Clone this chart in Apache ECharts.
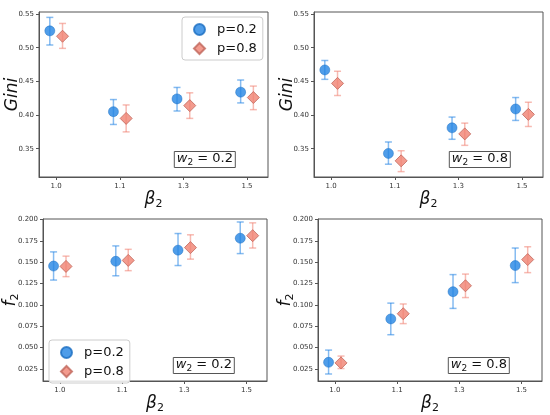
<!DOCTYPE html>
<html><head><meta charset="utf-8">
<script src="https://cdn.jsdelivr.net/npm/echarts@6/dist/echarts.min.js"></script>
<style>html,body{margin:0;padding:0;background:#fff}#c{width:550px;height:415px}</style>
</head><body><div id="c"></div>
<script>
// ---- data ----
const categories = ['1.0', '1.1', '1.3', '1.5'];
const giniTicks = [0.35, 0.40, 0.45, 0.50, 0.55];
const f2Ticks = [0.025, 0.050, 0.075, 0.100, 0.125, 0.150, 0.175, 0.200];

// Gini, w2 = 0.2
const giniW02P02 = [0.525, 0.405, 0.424, 0.434];
const giniW02P02Lo = [0.504, 0.386, 0.406, 0.418];
const giniW02P02Hi = [0.545, 0.423, 0.441, 0.452];
const giniW02P08 = [0.517, 0.395, 0.414, 0.426];
const giniW02P08Lo = [0.499, 0.375, 0.395, 0.408];
const giniW02P08Hi = [0.536, 0.415, 0.433, 0.443];
// Gini, w2 = 0.8
const giniW08P02 = [0.467, 0.343, 0.381, 0.409];
const giniW08P02Lo = [0.453, 0.327, 0.364, 0.392];
const giniW08P02Hi = [0.481, 0.360, 0.397, 0.426];
const giniW08P08 = [0.447, 0.332, 0.372, 0.401];
const giniW08P08Lo = [0.429, 0.316, 0.355, 0.383];
const giniW08P08Hi = [0.465, 0.347, 0.388, 0.419];
// f2, w2 = 0.2
const f2W02P02 = [0.1454, 0.151, 0.164, 0.178];
const f2W02P02Lo = [0.129, 0.134, 0.146, 0.160];
const f2W02P02Hi = [0.162, 0.169, 0.1835, 0.197];
const f2W02P08 = [0.145, 0.152, 0.167, 0.181];
const f2W02P08Lo = [0.133, 0.140, 0.1535, 0.1665];
const f2W02P08Hi = [0.157, 0.165, 0.182, 0.196];
// f2, w2 = 0.8
const f2W08P02 = [0.0327, 0.0835, 0.1154, 0.146];
const f2W08P02Lo = [0.019, 0.065, 0.0958, 0.126];
const f2W08P02Hi = [0.047, 0.102, 0.1354, 0.1665];
const f2W08P08 = [0.032, 0.0896, 0.1223, 0.153];
const f2W08P08Lo = [0.0254, 0.078, 0.1085, 0.1377];
const f2W08P08Hi = [0.040, 0.101, 0.136, 0.168];

const seriesNames = ['p=0.2', 'p=0.8'];
const w2Labels = ['0.2', '0.8', '0.2', '0.8'];

// ---- styles ----
const BLUE = '#2384e3';
const BLUE_ERR = 'rgba(35,132,227,0.55)';
const RED = '#f08272';
const RED_EDGE = '#c0675b';
const RED_ERR = 'rgba(240,130,114,0.55)';
const AX = '#555';
const FONT = 'DejaVu Sans';

const panels = [
  {grid: {left: 39, top: 12, width: 229, height: 165}, kind: 'gini',
   a: [giniW02P02, giniW02P02Lo, giniW02P02Hi], b: [giniW02P08, giniW02P08Lo, giniW02P08Hi]},
  {grid: {left: 314, top: 12, width: 229, height: 165}, kind: 'gini',
   a: [giniW08P02, giniW08P02Lo, giniW08P02Hi], b: [giniW08P08, giniW08P08Lo, giniW08P08Hi]},
  {grid: {left: 43, top: 219, width: 224, height: 164}, kind: 'f2',
   a: [f2W02P02, f2W02P02Lo, f2W02P02Hi], b: [f2W02P08, f2W02P08Lo, f2W02P08Hi]},
  {grid: {left: 318, top: 219, width: 224, height: 164}, kind: 'f2',
   a: [f2W08P02, f2W08P02Lo, f2W08P02Hi], b: [f2W08P08, f2W08P08Lo, f2W08P08Hi]}
];
const offsets = [-0.1, 0.1];

const grids = [], xAxes = [], yAxes = [], series = [], titles = [];

function errRender(color) {
  return function (params, api) {
    const x = api.value(0), lo = api.value(1), hi = api.value(2);
    const p1 = api.coord([x, hi]), p2 = api.coord([x, lo]);
    const cw = 3.5;
    const st = {stroke: color, lineWidth: 1.5};
    return {type: 'group', children: [
      {type: 'line', shape: {x1: p1[0], y1: p1[1], x2: p2[0], y2: p2[1]}, style: st},
      {type: 'line', shape: {x1: p1[0] - cw, y1: p1[1], x2: p1[0] + cw, y2: p1[1]}, style: st},
      {type: 'line', shape: {x1: p2[0] - cw, y1: p2[1], x2: p2[0] + cw, y2: p2[1]}, style: st}
    ]};
  };
}

panels.forEach(function (p, i) {
  grids.push(Object.assign({show: true, borderColor: AX, borderWidth: 1, backgroundColor: 'transparent'}, p.grid));
  const isGini = p.kind === 'gini';
  xAxes.push({
    type: 'value', gridIndex: i, min: -0.27, max: 3.33,
    axisLine: {show: true, onZero: false, lineStyle: {color: AX}},
    axisTick: {show: true, customValues: [0, 1, 2, 3], length: 3, lineStyle: {color: AX}},
    axisLabel: {customValues: [0, 1, 2, 3], formatter: function (v) { return categories[Math.round(v)]; },
      fontSize: 7, color: '#333', fontFamily: FONT, margin: 6},
    splitLine: {show: false},
    name: '{b|β}{s|2}', nameLocation: 'middle', nameGap: 12, nameMoveOverlap: false,
    nameTextStyle: {rich: {
      b: {fontSize: 17, fontStyle: 'italic', fontFamily: FONT, color: '#111'},
      s: {fontSize: 11, fontFamily: FONT, color: '#111', verticalAlign: 'bottom', padding: [10, 0, 0, 0]}
    }}
  });
  const ticks = isGini ? giniTicks : f2Ticks;
  yAxes.push({
    type: 'value', gridIndex: i,
    min: isGini ? 0.308 : 0.0108, max: isGini ? 0.553 : 0.2005,
    axisLine: {show: true, onZero: false, lineStyle: {color: AX}},
    axisTick: {show: true, customValues: ticks, length: 3, lineStyle: {color: AX}},
    axisLabel: {customValues: ticks, formatter: function (v) { return v.toFixed(isGini ? 2 : 3); },
      fontSize: 7, color: '#333', fontFamily: FONT, margin: 5},
    splitLine: {show: false},
    name: isGini ? 'Gini' : '{f|f}{s|2}', nameLocation: 'middle', nameGap: isGini ? 18 : 22,
    nameMoveOverlap: false,
    nameTextStyle: isGini ? {fontSize: 17, fontStyle: 'italic', fontFamily: FONT, color: '#111'} :
      {rich: {
        f: {fontSize: 17, fontStyle: 'italic', fontFamily: FONT, color: '#111'},
        s: {fontSize: 11, fontFamily: FONT, color: '#111', verticalAlign: 'bottom', padding: [10, 0, 0, 0]}
      }}
  });
  [p.a, p.b].forEach(function (d, k) {
    series.push({
      type: 'custom', name: 'err' + k + '_' + i, xAxisIndex: i, yAxisIndex: i, z: 2,
      renderItem: errRender(k === 0 ? BLUE_ERR : RED_ERR),
      data: d[0].map(function (v, j) { return [j + offsets[k], d[1][j], d[2][j]]; })
    });
  });
  [p.a, p.b].forEach(function (d, k) {
    series.push({
      type: 'scatter', name: seriesNames[k], xAxisIndex: i, yAxisIndex: i, z: 5,
      symbol: k === 0 ? 'circle' : 'diamond', symbolSize: k === 0 ? 10 : 12,
      itemStyle: k === 0 ? {color: BLUE, borderColor: '#1d6fc2', borderWidth: 0.6} :
        {color: RED, borderColor: RED_EDGE, borderWidth: 1},
      data: d[0].map(function (v, j) { return [j + offsets[k], v]; })
    });
  });
  const g = p.grid;
  titles.push({
    text: '{w|w}{s|2}{n| = ' + w2Labels[i] + '}',
    right: 550 - (g.left + g.width) + 32, top: g.top + g.height - 27,
    borderColor: '#555', borderWidth: 1, padding: [1, 3, 1, 3],
    backgroundColor: '#fff',
    textStyle: {fontWeight: 'normal', rich: {
      w: {fontSize: 13, fontStyle: 'italic', fontWeight: 'normal', fontFamily: FONT, color: '#111'},
      s: {fontSize: 9, fontWeight: 'normal', fontFamily: FONT, color: '#111', verticalAlign: 'bottom', padding: [7, 0, 0, 0]},
      n: {fontSize: 13, fontWeight: 'normal', fontFamily: FONT, color: '#111'}
    }}
  });
});

function legendAt(left, top) {
  return {
    data: [{name: 'p=0.2', icon: 'circle'}, {name: 'p=0.8', icon: 'diamond'}],
    orient: 'vertical', left: left, top: top,
    padding: [6, 6, 5, 11], itemGap: 6, itemWidth: 11, itemHeight: 11,
    textStyle: {fontSize: 13, fontFamily: FONT, color: '#111', padding: [0, 0, 0, 7]},
    borderColor: '#ccc', borderWidth: 1, borderRadius: 3, backgroundColor: 'rgba(255,255,255,0.85)'
  };
}

const chart = echarts.init(document.getElementById('c'), null, {renderer: 'canvas'});
chart.setOption({
  animation: false,
  backgroundColor: '#fff',
  grid: grids, xAxis: xAxes, yAxis: yAxes, series: series, title: titles,
  legend: [legendAt(182, 17), legendAt(49, 340)]
});
</script></body></html>
